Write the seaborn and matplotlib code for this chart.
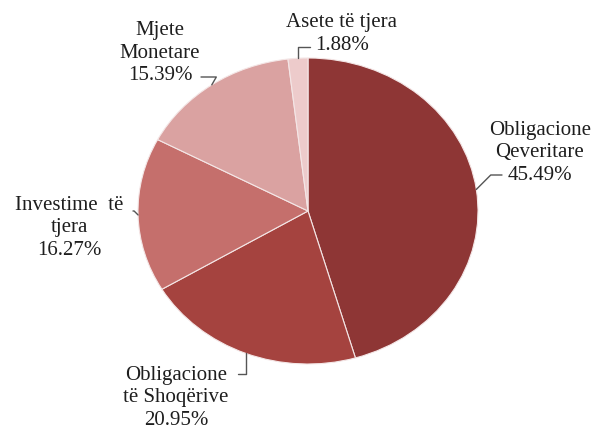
import matplotlib
matplotlib.use("Agg")
import numpy as np
import matplotlib.pyplot as plt
import seaborn as sns

sns.set_theme(style="white")
plt.rcParams['font.family'] = ['Liberation Serif', 'DejaVu Serif']

# data (clockwise from 12 o'clock)
categories = ["Obligacione\nQeveritare", "Obligacione\ntë Shoqërive", "Investime  të\ntjera",
              "Mjete\nMonetare", "Asete të tjera"]
shares = [45.49, 20.95, 16.27, 15.39, 1.88]
colors = ["#8E3635", "#A5433F", "#C56F6C", "#DAA2A1", "#EDCBCB"]

W, H = 597, 431

# label layout in pixels from top-left: text centre, leader start, leader bend angle
label_pos = [(540, 153), (176, 398), (69, 228), (160, 53), (342, 34)]
leader_start = [(502, 176), (238, 375), (133, 212), (201, 78), (310, 48)]
leader_angle = [45, 90, -45, 60, 90]

fig = plt.figure(figsize=(W / 100, H / 100), dpi=100)
# the pie in the reference is slightly wider than tall
ax = fig.add_axes([138 / W, (H - 365) / H, 340 / W, 306 / H])
wedges, _ = ax.pie(shares, colors=colors, startangle=90, counterclock=False,
                   wedgeprops=dict(edgecolor="#f4e6e6", linewidth=0.8))
ax.set_aspect('auto')
ax.set_xlim(-1, 1)
ax.set_ylim(-1, 1)
ax.axis('off')

for w, cat, val, (tx, ty), (sx, sy), ang in zip(wedges, categories, shares,
                                                   label_pos, leader_start, leader_angle):
    mid = np.deg2rad((w.theta1 + w.theta2) / 2)
    fig.text(tx / W, 1 - ty / H, f"{cat}\n{val:.2f}%", ha='center', va='center',
             multialignment='center', fontsize=15, color="#1e1e1e", linespacing=1.28)
    ax.annotate('', xy=(np.cos(mid), np.sin(mid)), xycoords='data',
                xytext=(sx, H - sy), textcoords='figure pixels', annotation_clip=False,
                arrowprops=dict(arrowstyle='-', color="#555555", lw=1.0, shrinkA=0, shrinkB=0,
                                connectionstyle=f"angle,angleA=0,angleB={ang},rad=0"))

fig.savefig("out.png", dpi=100, facecolor='white')
